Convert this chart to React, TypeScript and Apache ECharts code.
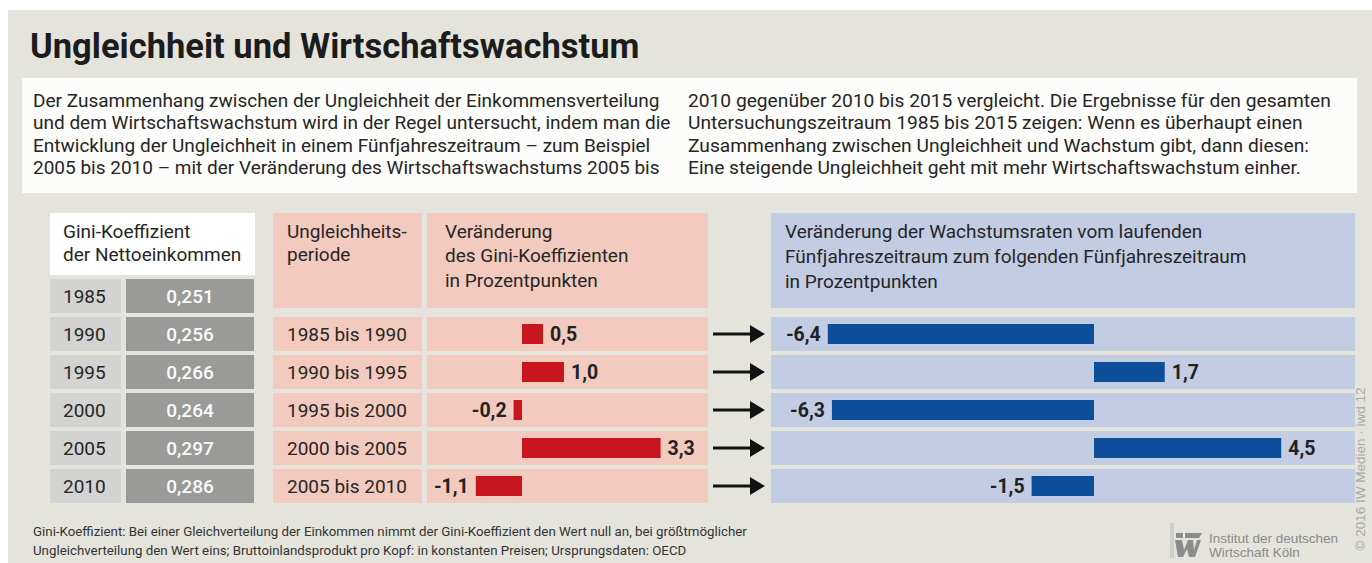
import React, { useEffect, useRef } from "react";
import * as echarts from "echarts";

// ---------- data ----------
const years = ["1985", "1990", "1995", "2000", "2005", "2010"];
const giniValues = [0.251, 0.256, 0.266, 0.264, 0.297, 0.286];
const periods = ["1985 bis 1990", "1990 bis 1995", "1995 bis 2000", "2000 bis 2005", "2005 bis 2010"];
const giniChange = [0.5, 1.0, -0.2, 3.3, -1.1];
const growthChange = [-6.4, 1.7, -6.3, 4.5, -1.5];

// ---------- texts ----------
const title = "Ungleichheit und Wirtschaftswachstum";
const introLeft = [
  "Der Zusammenhang zwischen der Ungleichheit der Einkommensverteilung",
  "und dem Wirtschaftswachstum wird in der Regel untersucht, indem man die",
  "Entwicklung der Ungleichheit in einem Fünfjahreszeitraum – zum Beispiel",
  "2005 bis 2010 – mit der Veränderung des Wirtschaftswachstums 2005 bis",
];
const introRight = [
  "2010 gegenüber 2010 bis 2015 vergleicht. Die Ergebnisse für den gesamten",
  "Untersuchungszeitraum 1985 bis 2015 zeigen: Wenn es überhaupt einen",
  "Zusammenhang zwischen Ungleichheit und Wachstum gibt, dann diesen:",
  "Eine steigende Ungleichheit geht mit mehr Wirtschaftswachstum einher.",
];
const headerGini = ["Gini-Koeffizient", "der Nettoeinkommen"];
const headerPeriod = ["Ungleichheits-", "periode"];
const headerChange = ["Veränderung", "des Gini-Koeffizienten", "in Prozentpunkten"];
const headerGrowth = [
  "Veränderung der Wachstumsraten vom laufenden",
  "Fünfjahreszeitraum zum folgenden Fünfjahreszeitraum",
  "in Prozentpunkten",
];
const footnote = [
  "Gini-Koeffizient: Bei einer Gleichverteilung der Einkommen nimmt der Gini-Koeffizient den Wert null an, bei größtmöglicher",
  "Ungleichverteilung den Wert eins; Bruttoinlandsprodukt pro Kopf: in konstanten Preisen; Ursprungsdaten: OECD",
];
const logoText = ["Institut der deutschen", "Wirtschaft Köln"];
const copyright = "© 2016 IW Medien · iwd 12";

// ---------- styles ----------
const FONT = "Roboto, 'Liberation Sans', Arial, sans-serif";
const TXT = "#262626";
const BG = "#e4e4dc";
const PINK = "#f3cabe";
const BLUE_BG = "#c2cce3";
const RED = "#c8161e";
const BLUE = "#0c4e9a";

const fmt = (v: number, d: number) => v.toFixed(d).replace(".", ",");

function textLines(arr: string[], x: number, y0: number, pitch: number, extra: any = {}) {
  return arr.map((t, i) => ({
    type: "text",
    x,
    y: y0 + i * pitch,
    z: 20,
    silent: true,
    style: {
      text: t,
      fill: TXT,
      fontSize: 19,
      fontFamily: FONT,
      align: "left",
      verticalAlign: "middle",
      ...extra,
    },
  }));
}

export default function App() {
  const ref = useRef<HTMLDivElement>(null);

  useEffect(() => {
    if (!ref.current) return;
    const chart = echarts.init(ref.current, undefined, { renderer: "svg" });

    const top5 = 315;
    const h5 = 190;
    const top6 = 277;
    const h6 = 228;

    const grids = [
      { left: 50, width: 71, top: top6, height: h6 }, // 0 years
      { left: 126, width: 128, top: top6, height: h6 }, // 1 gini values
      { left: 273, width: 149, top: top5, height: h5 }, // 2 periods
      { left: 427, width: 281, top: top5, height: h5 }, // 3 red bg
      { left: 427, width: 281, top: top5, height: h5 }, // 4 red bars
      { left: 710, width: 58, top: top5, height: h5 }, // 5 arrows
      { left: 771, width: 584, top: top5, height: h5 }, // 6 blue bg
      { left: 771, width: 584, top: top5, height: h5 }, // 7 blue bars
    ].map((g) => ({ ...g, containLabel: false, outerBoundsMode: "none", show: false }));

    const redMin = -95 / 42;
    const redMax = 186 / 42;
    const blueMin = -323 / 41.6;
    const blueMax = 261 / 41.6;

    const xRanges = [
      [0, 1],
      [0, 1],
      [-5, 5],
      [redMin, redMax],
      [redMin, redMax],
      [0, 1],
      [blueMin, blueMax],
      [blueMin, blueMax],
    ];

    const xAxis = xRanges.map((r, i) => ({
      gridIndex: i,
      type: "value",
      min: r[0],
      max: r[1],
      show: false,
    }));

    const hiddenCat = (i: number, data: string[]) => ({
      gridIndex: i,
      type: "category",
      data,
      inverse: true,
      show: false,
    });

    const labelBase = { color: TXT, fontSize: 19, fontFamily: FONT };

    const yAxis: any[] = [
      {
        gridIndex: 0,
        type: "category",
        data: years,
        inverse: true,
        z: 10,
        axisLine: { show: false },
        axisTick: { show: false },
        splitLine: { show: false },
        axisLabel: { ...labelBase, inside: true, margin: 13 },
      },
      {
        gridIndex: 1,
        type: "category",
        data: years,
        inverse: true,
        z: 10,
        axisLine: { show: false },
        axisTick: { show: false },
        splitLine: { show: false },
        axisLabel: {
          ...labelBase,
          color: "#fafafa",
          fontWeight: 500,
          inside: true,
          margin: 64,
          align: "center",
          formatter: (_v: string, i: number) => fmt(giniValues[i], 3),
        },
      },
      {
        gridIndex: 2,
        type: "category",
        data: periods,
        inverse: true,
        z: 10,
        axisLine: { show: false },
        axisTick: { show: false },
        splitLine: { show: false },
        axisLabel: { ...labelBase, inside: true, margin: 14 },
      },
      hiddenCat(3, periods),
      hiddenCat(4, periods),
      hiddenCat(5, periods),
      hiddenCat(6, periods),
      hiddenCat(7, periods),
    ];

    const bgBar = (i: number, data: number[], color: string) => ({
      type: "bar",
      xAxisIndex: i,
      yAxisIndex: i,
      data,
      barWidth: 34,
      silent: true,
      itemStyle: { color: "rgba(0,0,0,0)" },
      showBackground: true,
      backgroundStyle: { color, opacity: 1 },
      z: 1,
    });

    const valueBar = (i: number, data: number[], color: string) => ({
      type: "bar",
      xAxisIndex: i,
      yAxisIndex: i,
      barWidth: 20,
      silent: true,
      z: 3,
      itemStyle: { color },
      data: data.map((v) => ({ value: v, label: { position: v < 0 ? "left" : "right" } })),
      label: {
        show: true,
        distance: 7,
        formatter: (p: any) => fmt(p.value, 1),
        color: "#222",
        fontSize: 19.5,
        fontWeight: "bold",
        fontFamily: FONT,
      },
    });

    const series: any[] = [
      bgBar(0, giniValues, "#d3d3d1"),
      bgBar(1, giniValues, "#9a9a99"),
      bgBar(2, giniChange, PINK),
      bgBar(3, giniChange, PINK),
      valueBar(4, giniChange, RED),
      {
        type: "scatter",
        xAxisIndex: 5,
        yAxisIndex: 5,
        silent: true,
        symbol: "path://M0,7.5L38,7.5L38,10.5L0,10.5Z M37,0L52,9L37,18Z",
        symbolSize: [52, 18],
        itemStyle: { color: "#111", opacity: 1 },
        data: periods.map((p) => [0.5, p]),
        z: 3,
      },
      bgBar(6, growthChange, BLUE_BG),
      valueBar(7, growthChange, BLUE),
    ];

    const graphic: any[] = [
      { type: "rect", z: -10, silent: true, shape: { x: 8, y: 10, width: 1364, height: 553 }, style: { fill: BG } },
      {
        type: "text",
        x: 30,
        y: 46,
        z: 20,
        silent: true,
        style: { text: title, fill: "#1c1c1c", fontSize: 34.5, fontWeight: "bold", fontFamily: FONT, align: "left", verticalAlign: "middle" },
      },
      { type: "rect", z: -5, silent: true, shape: { x: 22, y: 78, width: 1335, height: 115 }, style: { fill: "#fcfcfa" } },
      ...textLines(introLeft, 33, 100, 22.5),
      ...textLines(introRight, 688, 100, 22.5, { fontSize: 19.2 }),
      // headers
      { type: "rect", z: -5, silent: true, shape: { x: 50, y: 213, width: 205, height: 62 }, style: { fill: "#ffffff" } },
      ...textLines(headerGini, 63, 231, 23),
      { type: "rect", z: -5, silent: true, shape: { x: 273, y: 213, width: 149, height: 95 }, style: { fill: PINK } },
      ...textLines(headerPeriod, 287, 231, 23),
      { type: "rect", z: -5, silent: true, shape: { x: 427, y: 213, width: 281, height: 95 }, style: { fill: PINK } },
      ...textLines(headerChange, 445, 231, 24.5),
      { type: "rect", z: -5, silent: true, shape: { x: 771, y: 213, width: 584, height: 95 }, style: { fill: BLUE_BG } },
      ...textLines(headerGrowth, 785, 231, 25),
      // footnote
      ...textLines(footnote, 33, 531, 19, { fontSize: 13.3, fill: "#333" }),
      // logo
      { type: "rect", z: 5, silent: true, shape: { x: 1170, y: 523, width: 4, height: 35 }, style: { fill: "#cfcfca" } },
      { type: "polygon", z: 5, silent: true, shape: { points: [[1176, 533], [1183, 533], [1183, 538], [1176, 538]] }, style: { fill: "#8c8c8c" } },
      { type: "polygon", z: 5, silent: true, shape: { points: [[1185, 533], [1202, 533], [1199, 538], [1185, 538]] }, style: { fill: "#8c8c8c" } },
      {
        type: "polygon",
        z: 5,
        silent: true,
        shape: {
          points: [[1175, 540], [1182, 540], [1184, 550], [1188, 540], [1193, 540], [1194, 550], [1197, 540], [1201, 540], [1195, 557], [1189, 557], [1187, 549], [1183, 557], [1178, 557]],
        },
        style: { fill: "#8c8c8c" },
      },
      ...textLines(logoText, 1209, 538.5, 13.5, { fontSize: 13.5, fill: "#8a8a8a", fontFamily: "'Liberation Sans', Arial, sans-serif" }),
      {
        type: "text",
        x: 1360,
        y: 469,
        rotation: Math.PI / 2,
        z: 20,
        silent: true,
        style: { text: copyright, fill: "#a9a9a3", fontSize: 13.5, fontFamily: "'Liberation Sans', Arial, sans-serif", align: "center", verticalAlign: "middle" },
      },
    ];

    chart.setOption({
      animation: false,
      backgroundColor: "transparent",
      grid: grids,
      xAxis,
      yAxis,
      series,
      graphic,
    });

    return () => chart.dispose();
  }, []);

  return (
    <div
      ref={ref}
      style={{ position: "fixed", left: 0, top: 0, width: 1372, height: 563, background: "#ffffff" }}
    />
  );
}
